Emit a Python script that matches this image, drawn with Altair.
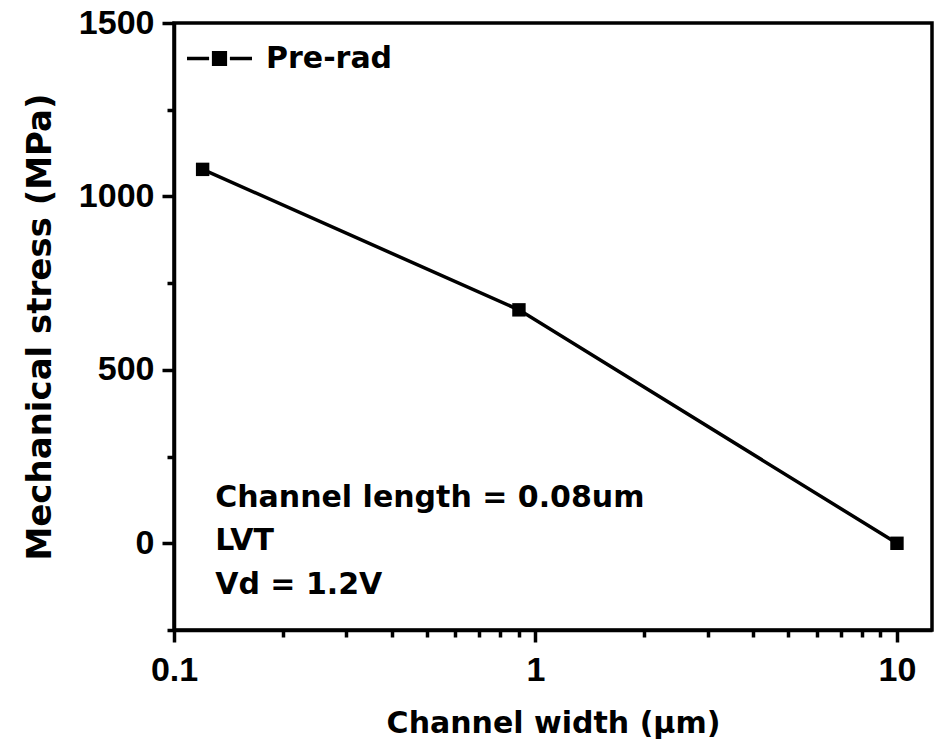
import altair as alt
import pandas as pd

# ---- data ----
widths = [0.12, 0.9, 10]          # channel width (um)
stress = [1078, 673, 0]           # mechanical stress (MPa)
series = ["Pre-rad", "Pre-rad", "Pre-rad"]

notes = ["Channel length = 0.08um", "LVT", "Vd = 1.2V"]
note_x = [0.13, 0.13, 0.13]
note_y = [132, 6, -120]

x_tick_values = [0.1, 0.2, 0.3, 0.4, 0.5, 0.6, 0.7, 0.8, 0.9,
                 1, 2, 3, 4, 5, 6, 7, 8, 9, 10]
y_tick_values = [-250, 0, 250, 500, 750, 1000, 1250, 1500]

df = pd.DataFrame({"w": widths, "s": stress, "series": series})
notes_df = pd.DataFrame({"t": notes, "x": note_x, "y": note_y})

FONT = "DejaVu Sans"
TICKFONT = "Liberation Sans"

x_major = "abs(log(datum.value)/LN10 - round(log(datum.value)/LN10)) < 1e-6"
y_major = "datum.value % 500 === 0"

x_scale = alt.Scale(type="log", domain=[0.1, 12.5], nice=False)
y_scale = alt.Scale(domain=[-250, 1500], nice=False, zero=False)

x_axis = alt.Axis(
    title="Channel width (\u03bcm)",
    values=x_tick_values,
    labelExpr="(" + x_major + ") ? format(datum.value, '~g') : ''",
    tickSize={"condition": {"test": x_major, "value": 12}, "value": 7},
    labelOverlap=False, labelFlush=False,
    labelPadding=11, titlePadding=21,
)
y_axis = alt.Axis(
    title="Mechanical stress (MPa)",
    values=y_tick_values,
    labelExpr="(" + y_major + ") ? format(datum.value, 'd') : ''",
    tickSize={"condition": {"test": y_major, "value": 12}, "value": 7},
    labelOverlap=False, labelFlush=False,
    labelPadding=8, titlePadding=21,
)

legend = alt.Legend(
    title=None, orient="none", legendX=11, legendY=1, padding=0,
    symbolType="M-0.18,-0.18L0.18,-0.18L0.18,0.18L-0.18,0.18ZM-1,0L-0.32,0M0.32,0L1,0",
    symbolSize=4225, symbolStrokeWidth=3.5,
    symbolStrokeColor="black", symbolFillColor="black",
    labelFont=FONT, labelFontSize=30, labelFontWeight="bold",
    labelColor="black", labelOffset=12,
)

color = alt.Color("series:N", scale=alt.Scale(range=["black"]), legend=legend)

line = alt.Chart(df).mark_line(strokeWidth=3.5).encode(
    x=alt.X("w:Q", scale=x_scale, axis=x_axis),
    y=alt.Y("s:Q", scale=y_scale, axis=y_axis),
    color=color,
)
pts = alt.Chart(df).mark_point(shape="square", filled=True, size=180, opacity=1).encode(
    x=alt.X("w:Q", scale=x_scale),
    y=alt.Y("s:Q", scale=y_scale),
    color=color,
)
txt = alt.Chart(notes_df).mark_text(
    align="left", baseline="middle", font=FONT, fontSize=30,
    fontWeight="bold", color="black",
).encode(
    x=alt.X("x:Q", scale=x_scale),
    y=alt.Y("y:Q", scale=y_scale),
    text="t:N",
)

chart = alt.layer(line, pts, txt).properties(
    width=758, height=607,
    autosize=alt.AutoSizeParams(type="none"),
    padding={"left": 174, "top": 23, "right": 5, "bottom": 121},
    background="white",
).configure_view(
    stroke="black", strokeWidth=3.5,
).configure_axis(
    grid=False,
    domainColor="black", domainWidth=3.5,
    tickColor="black", tickWidth=3.5,
    labelFont=TICKFONT, labelFontSize=34, labelFontWeight="bold", labelColor="black",
    titleFont=FONT, titleFontSize=30, titleFontWeight="bold", titleColor="black",
).configure_axisY(
    titleFontSize=34,
)

chart.save("out.html", embed_options={"renderer": "svg", "actions": False})
